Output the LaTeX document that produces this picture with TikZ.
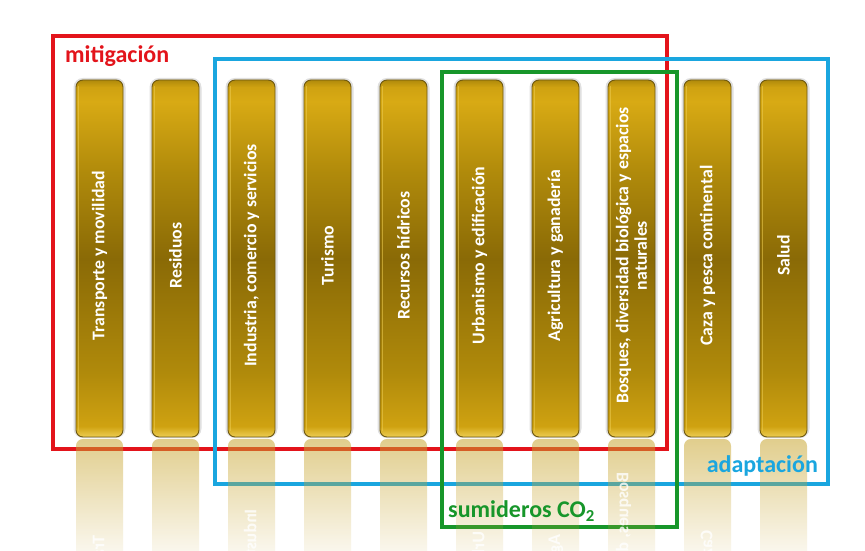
\documentclass[tikz,border=0pt]{standalone}
\usepackage{fontspec}
\setmainfont{Carlito}
\usetikzlibrary{fadings}
\definecolor{redf}{HTML}{E3141B}
\definecolor{bluef}{HTML}{1AA6DF}
\definecolor{greenf}{HTML}{17962A}
\definecolor{goldA}{HTML}{D8AA14}
\definecolor{goldB}{HTML}{B08A0B}
\definecolor{goldC}{HTML}{8A6A06}
\definecolor{goldD}{HTML}{CFA211}
\definecolor{goldE}{HTML}{EDCD52}
\definecolor{goldEdge}{HTML}{6E5810}
\definecolor{reflgold}{HTML}{C9A630}
\pgfdeclareverticalshading{goldbar}{100bp}{color(0bp)=(goldE); color(25bp)=(goldE); color(26.5bp)=(goldD); color(34bp)=(goldB); color(50bp)=(goldC); color(62bp)=(goldB); color(72bp)=(goldA); color(74bp)=(goldD); color(75bp)=(goldB); color(100bp)=(goldB)}
\tikzset{
  bar/.style={minimum width=47pt, minimum height=357pt, rounded corners=7pt, shading=goldbar, draw=goldEdge, line width=0.9pt, inner sep=0pt},
  barhalo/.style={draw=black!12, line width=3pt, rounded corners=8pt},
  bartext/.style={rotate=90, text=white, font=\fontsize{17.8}{18.5}\selectfont\bfseries, align=center, inner sep=0pt},
  frame/.style={line width=4pt},
  lbl/.style={font=\fontsize{24}{26}\selectfont\bfseries, inner sep=0pt},
  refl/.style={fill=reflgold, fill opacity=0.55, path fading=south, rounded corners=7pt},
}
\begin{document}
\begin{tikzpicture}[x=1pt,y=1pt]
\useasboundingbox (0,0) rectangle (865,551);
\fill[white] (0,0) rectangle (865,551);
% frames
\draw[frame, redf] (53,515) rectangle (667,102);
\draw[frame, bluef] (215,492) rectangle (828,67);
\draw[frame, greenf] (442,479) rectangle (677,24);
% bars
\foreach \i/\t in {0/{Transporte y movilidad},1/{Residuos},2/{Industria, comercio y servicios},3/{Turismo},4/{Recursos hídricos},5/{Urbanismo y edificación},6/{Agricultura y ganadería},7/{Bosques, diversidad biológica y espacios\\naturales},8/{Caza y pesca continental},9/{Salud}}{
  \pgfmathsetmacro{\bx}{99.5+76*\i}
  \draw[barhalo] (\bx-24.5,114.5) rectangle (\bx+24.5,471.5);
  \node[bar] (b\i) at (\bx,292.5) {};
  \draw[goldE, opacity=0.55, line width=1.2pt] ([xshift=3pt,yshift=-6pt]b\i.north west) -- ([xshift=3pt,yshift=6pt]b\i.south west);
  \node[bartext] (t\i) at ([yshift=3pt]b\i.center) {\t};
  % reflection
  \begin{scope}
    \clip (\bx-24,0) rectangle (\bx+24,112);
    \path[refl] (\bx-23.5,-20) rectangle (\bx+23.5,112);
    \begin{scope}[shift={(0,226)}, yscale=-1]
      \node[bartext, transform shape, opacity=0.8] (r\i) at (\bx,295.5) {\t};
    \end{scope}
  \end{scope}
}
% labels
\node[lbl, text=redf, anchor=base west] (lm) at (65,488) {mitigación};
\node[lbl, text=bluef, anchor=base east] (la) at (818,78) {adaptación};
\node[lbl, text=greenf, anchor=base west] (ls) at (448,33) {sumideros CO\textsubscript{2}};
\end{tikzpicture}
\end{document}
